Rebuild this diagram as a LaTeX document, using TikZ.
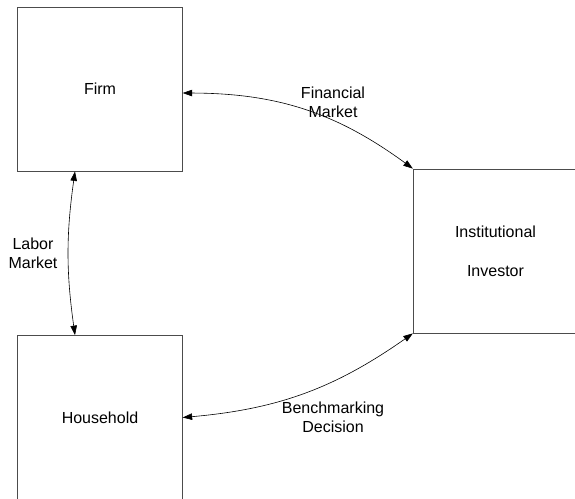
\documentclass[tikz,border=0pt]{standalone}
\usepackage{fontspec}
\setmainfont{Liberation Sans}
\usetikzlibrary{arrows.meta}
\begin{document}
\begin{tikzpicture}[x=1pt,y=-1pt,
  box/.style={draw=black!70,line width=0.8pt,minimum width=164.5pt,minimum height=164pt,inner sep=0pt,font=\fontsize{16}{19}\selectfont,align=center},
  lbl/.style={font=\fontsize{16}{19}\selectfont,align=center,inner sep=0pt},
  link/.style={line width=0.6pt,{Triangle[length=9.5pt,width=6.5pt]}-{Triangle[length=9.5pt,width=6.5pt]}}]
\useasboundingbox (0,0) rectangle (575,498);
\node[box] (firm) at (100,89) {Firm};
\node[box] (hh) at (100,417.5) {Household};
\node[box] (inv) at (495.5,251) {Institutional\\[20pt]Investor};
\draw[link] ([yshift=-4pt]firm.east) to[bend left=18] (inv.north west);
\draw[link] (hh.east) to[bend right=15] (inv.south west);
\draw[link] ([xshift=-25pt]firm.south) to[bend right=8] ([xshift=-25pt]hh.north);
\node[lbl] (fm) at (333,102) {Financial\\Market};
\node[lbl] (bd) at (333,417) {Benchmarking\\Decision};
\node[lbl] (lm) at (33,253) {Labor\\Market};
\end{tikzpicture}
\end{document}
